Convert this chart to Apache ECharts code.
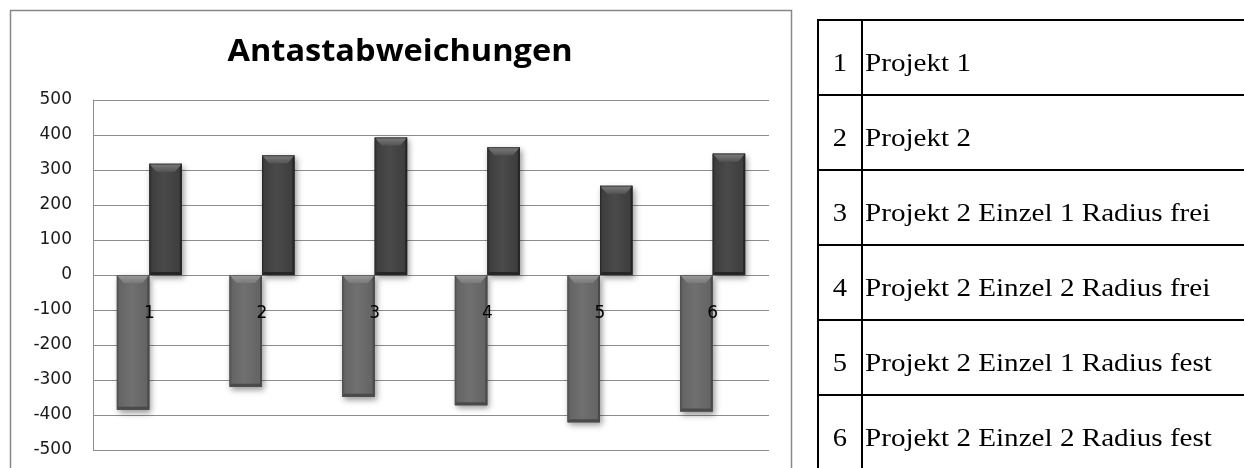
<!DOCTYPE html>
<html>
<head>
<meta charset="utf-8">
<script src="https://cdn.jsdelivr.net/npm/echarts@6/dist/echarts.min.js"></script>
<style>
  html, body { margin: 0; padding: 0; background: #fff; overflow: hidden; }
  #wrap { position: relative; width: 1244px; height: 468px; overflow: hidden; }
  #chart { position: absolute; left: 0; top: 0; width: 1244px; height: 468px; }
  .hline { position: absolute; left: 817px; width: 440px; height: 2px; background: #000; }
  .vline { position: absolute; top: 19px; width: 2px; height: 460px; background: #000; }
  .cell { position: absolute; font-family: "Liberation Serif", "Times New Roman", serif;
          font-size: 26px; color: #000; white-space: nowrap; line-height: 30px; }
  .cell.num { width: 42px; left: 819px; text-align: center; transform: scaleX(1.1); }
  .cell.name { left: 865px; transform: scaleX(1.12); transform-origin: left center; }
</style>
</head>
<body>
<div id="wrap">
  <div id="chart"></div>
  <div id="key"></div>
</div>
<script>
// Projects on the category axis and their names in the key table
const categories = ['1', '2', '3', '4', '5', '6'];
const projectNames = [
  'Projekt 1',
  'Projekt 2',
  'Projekt 2 Einzel 1 Radius frei',
  'Projekt 2 Einzel 2 Radius frei',
  'Projekt 2 Einzel 1 Radius fest',
  'Projekt 2 Einzel 2 Radius fest'
];
// Deviations below and above zero per project
const negativeValues = [-385, -319, -348, -372, -421, -390];
const positiveValues = [318, 342, 393, 365, 255, 347];
// Value axis range
const yMin = -500, yMax = 500, yStep = 100;

// Key table: numbered rows with ruled borders
const key = document.getElementById('key');
const rowTop = 19, rowH = 75;
for (let i = 0; i <= categories.length; i++) {
  const l = document.createElement('div');
  l.className = 'hline';
  l.style.top = (rowTop + i * rowH) + 'px';
  key.appendChild(l);
}
[817, 861].forEach(x => {
  const v = document.createElement('div');
  v.className = 'vline';
  v.style.left = x + 'px';
  key.appendChild(v);
});
categories.forEach((c, i) => {
  const top = rowTop + i * rowH + 29;
  const n = document.createElement('div');
  n.className = 'cell num';
  n.style.top = top + 'px';
  n.textContent = c;
  key.appendChild(n);
  const t = document.createElement('div');
  t.className = 'cell name';
  t.style.top = top + 'px';
  t.textContent = projectNames[i];
  key.appendChild(t);
});

// Bevelled column: body with a lit top edge, shaded sides and bottom
function bevelBar(offsetSign, palette) {
  return function (params, api) {
    const idx = api.value(0);
    const val = api.value(1);
    const base = api.coord([idx, 0]);
    const tip = api.coord([idx, val]);
    const bandW = api.size([1, 0])[0];
    const w = bandW * 0.2885;
    const x0 = base[0] + (offsetSign < 0 ? -w : 0);
    const x1 = x0 + w;
    const y0 = Math.min(base[1], tip[1]);
    const y1 = Math.max(base[1], tip[1]);
    const bt = 8, bi = 7, bs = 2, bb = 3;
    const body = {
      type: 'rect',
      shape: { x: x0, y: y0, width: w, height: y1 - y0 },
      style: {
        fill: new echarts.graphic.LinearGradient(0, 0, 1, 0, [
          { offset: 0, color: palette.edge },
          { offset: 0.45, color: palette.mid },
          { offset: 1, color: palette.edge }
        ]),
        shadowColor: 'rgba(0,0,0,0.4)', shadowBlur: 6, shadowOffsetX: 2, shadowOffsetY: 3
      }
    };
    const leftFace = {
      type: 'rect',
      shape: { x: x0, y: y0, width: bs, height: y1 - y0 },
      style: { fill: palette.side }
    };
    const rightFace = {
      type: 'rect',
      shape: { x: x1 - bs, y: y0, width: bs, height: y1 - y0 },
      style: { fill: palette.dark }
    };
    const bottomFace = {
      type: 'polygon',
      shape: { points: [[x0, y1], [x1, y1], [x1 - bs, y1 - bb], [x0 + bs, y1 - bb]] },
      style: { fill: palette.dark }
    };
    const topFace = {
      type: 'polygon',
      shape: { points: [[x0, y0], [x1, y0], [x1 - bi, y0 + bt], [x0 + bi, y0 + bt]] },
      style: {
        fill: new echarts.graphic.LinearGradient(0, 0, 0, 1, [
          { offset: 0, color: palette.light },
          { offset: 1, color: palette.lightEnd }
        ])
      }
    };
    const outline = {
      type: 'rect',
      shape: { x: x0 + 0.5, y: y0 + 0.5, width: w - 1, height: y1 - y0 - 1 },
      style: { fill: 'none', stroke: palette.dark, lineWidth: 1, opacity: 0.7 }
    };
    return { type: 'group', children: [body, leftFace, rightFace, bottomFace, topFace, outline] };
  };
}

const negPalette = { edge: '#626262', mid: '#707070', light: '#9a9a9a', lightEnd: '#7a7a7a', side: '#5c5c5c', dark: '#4a4a4a' };
const posPalette = { edge: '#3c3c3c', mid: '#4a4a4a', light: '#7c7c7c', lightEnd: '#555555', side: '#363636', dark: '#262626' };

const chart = echarts.init(document.getElementById('chart'), null, { renderer: 'canvas' });
chart.setOption({
  animation: false,
  backgroundColor: '#fff',
  graphic: [
    {
      type: 'rect', silent: true, z: -10,
      shape: { x: 10.5, y: 10.5, width: 781, height: 480 },
      style: { fill: '#fff', stroke: '#878787', lineWidth: 1.5 }
    },
    {
      type: 'text', silent: true,
      x: 400, y: 52, scaleX: 1.05,
      style: {
        text: 'Antastabweichungen', fill: '#000',
        font: 'bold 31px "Open Sans", "Noto Sans", sans-serif',
        align: 'center', verticalAlign: 'middle'
      }
    }
  ],
  grid: { left: 93, right: 475, top: 100, bottom: 18, containLabel: false, outerBoundsMode: 'none' },
  xAxis: {
    type: 'category',
    data: categories,
    axisLine: { show: false, onZero: false },
    axisTick: { show: false },
    axisLabel: {
      margin: -145, color: '#000',
      fontFamily: 'DejaVu Sans', fontSize: 17
    },
    splitLine: { show: false },
    z: 10
  },
  yAxis: {
    type: 'value',
    min: yMin, max: yMax, interval: yStep,
    axisLine: { show: true, lineStyle: { color: '#8c8c8c', width: 1 } },
    axisTick: { show: false },
    axisLabel: { margin: 21, color: '#1a1a1a', fontFamily: 'DejaVu Sans', fontSize: 17 },
    splitLine: { show: true, lineStyle: { color: '#8c8c8c', width: 1 } }
  },
  series: [
    {
      name: 'negativ',
      type: 'custom',
      renderItem: bevelBar(-1, negPalette),
      encode: { x: 0, y: 1 },
      data: negativeValues.map((v, i) => [i, v]),
      z: 2
    },
    {
      name: 'positiv',
      type: 'custom',
      renderItem: bevelBar(1, posPalette),
      encode: { x: 0, y: 1 },
      data: positiveValues.map((v, i) => [i, v]),
      z: 2
    }
  ]
});
</script>
</body>
</html>
